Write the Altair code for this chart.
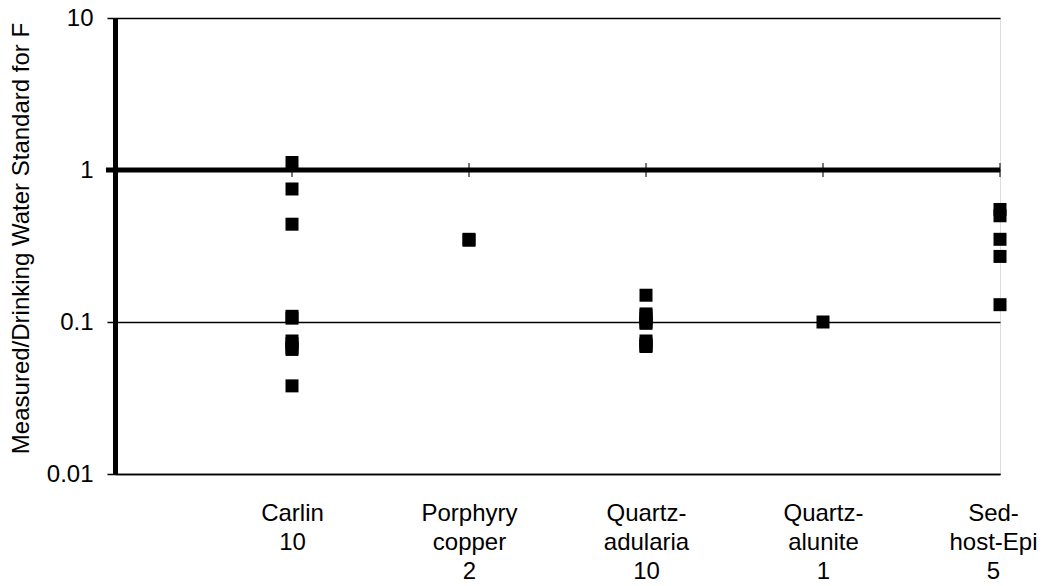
import altair as alt
import pandas as pd
import json

# Category labels (lines) and sample counts
cat_lines = [["Carlin", "10"], ["Porphyry", "copper", "2"], ["Quartz-", "adularia", "10"],
             ["Quartz-", "alunite", "1"], ["Sed-", "host-Epi", "5"]]
cat_pos = [1, 2, 3, 4, 5]

carlin = [1.12, 0.75, 0.44, 0.109, 0.106, 0.075, 0.072, 0.068, 0.066, 0.038]
porphyry = [0.35, 0.345]
q_adularia = [0.15, 0.113, 0.11, 0.105, 0.1, 0.098, 0.075, 0.072, 0.07, 0.069]
q_alunite = [0.1]
sed_host = [0.55, 0.5, 0.35, 0.27, 0.13]

y_ticks = [0.01, 0.1, 1, 10]
y_title = "Measured/Drinking Water Standard for F"

series = [carlin, porphyry, q_adularia, q_alunite, sed_host]
rows = []
for pos, vals in zip(cat_pos, series):
    for v in vals:
        rows.append({"pos": pos, "value": v})
df = pd.DataFrame(rows)
cats_df = pd.DataFrame({"pos": cat_pos, "value": [1] * len(cat_pos)})

W, H = 885, 456
FONT = "Liberation Sans"

label_expr = json.dumps(cat_lines) + "[datum.value - 1]"
xscale = alt.Scale(domain=[0, 5], nice=False, zero=False)
xaxis = alt.Axis(title=None, values=cat_pos, ticks=False, grid=False, domainColor="black",
                 domainWidth=1.5, labelExpr=label_expr, labelAngle=0, labelAlign="center",
                 labelFlush=False, labelOverlap=False, labelBound=False,
                 labelOffset={"condition": {"test": "datum.value == 5", "value": -7}, "value": 0},
                 labelFont=FONT, labelFontSize=24, labelColor="black",
                 labelLineHeight=29, labelPadding=27, labelBaseline="top")
yscale = alt.Scale(type="log", domain=[0.01, 10])
yaxis = alt.Axis(title=y_title, values=y_ticks, format="~g", grid=True, gridColor="black",
                 gridWidth=1.5, gridOpacity=1, domainColor="black", domainWidth=5,
                 tickColor="black", tickSize=8, tickWidth=1.5, labelFont=FONT,
                 labelFontSize=24, labelColor="black", labelPadding=14,
                 titleFont=FONT, titleFontSize=24, titleFontWeight="normal",
                 titleColor="black", titleX=-87, titleY=H / 2 - 8,
                 titleBaseline="alphabetic", titleAngle=270)

X = alt.X("pos:Q", scale=xscale, axis=xaxis)
Y = alt.Y("value:Q", scale=yscale, axis=yaxis)

points = alt.Chart(df).mark_square(size=169, color="black", opacity=1).encode(x=X, y=Y)

one_rule = alt.Chart(pd.DataFrame({"value": [1]})).mark_rule(color="black", strokeWidth=5).encode(
    y=Y, x=alt.value(-9), x2=alt.value(W))

ticks = alt.Chart(cats_df).mark_tick(color="black", orient="vertical", size=14, thickness=1.5).encode(
    x=X, y=Y)

chart = alt.layer(one_rule, ticks, points).properties(
    width=W, height=H, autosize=alt.AutoSizeParams(type="none"),
    padding={"left": 107, "top": 10, "right": 40, "bottom": 112}
).configure_view(strokeWidth=0).configure(background="white")

chart.save("out.html", embed_options={"renderer": "svg", "actions": False})
